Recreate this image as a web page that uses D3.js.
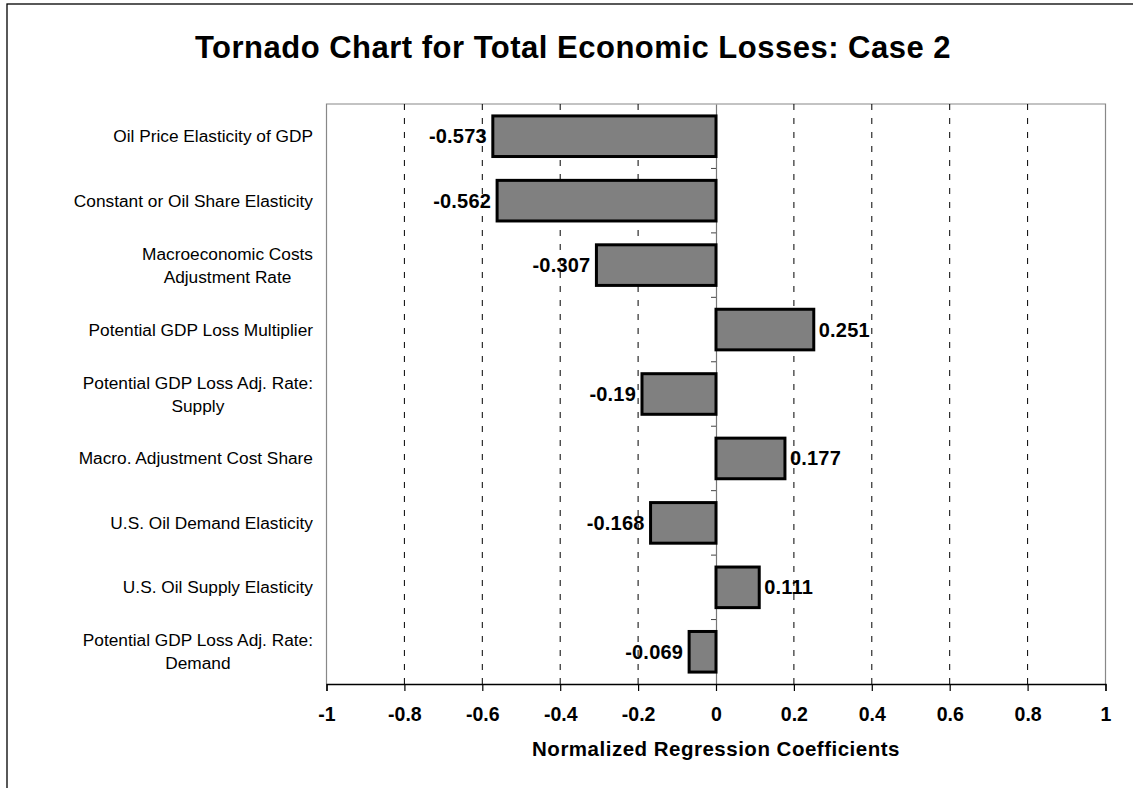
<!DOCTYPE html>
<html>
<head>
<meta charset="utf-8">
<script src="https://cdn.jsdelivr.net/npm/d3@7"></script>
<style>
  html, body { margin: 0; padding: 0; background: #fff; }
  svg { display: block; font-family: Arial, "Liberation Sans", sans-serif; }
</style>
</head>
<body>
<svg id="chart" width="1133" height="788"></svg>
<script>
const title = "Tornado Chart for Total Economic Losses: Case 2";
const xAxisTitle = "Normalized Regression Coefficients";
const categories = [
  "Oil Price Elasticity of GDP",
  "Constant or Oil Share Elasticity",
  "Macroeconomic Costs\nAdjustment Rate",
  "Potential GDP Loss Multiplier",
  "Potential GDP Loss Adj. Rate:\nSupply",
  "Macro. Adjustment Cost Share",
  "U.S. Oil Demand Elasticity",
  "U.S. Oil Supply Elasticity",
  "Potential GDP Loss Adj. Rate:\nDemand"
];
const values = [-0.573, -0.562, -0.307, 0.251, -0.19, 0.177, -0.168, 0.111, -0.069];
const xTicks = [-1, -0.8, -0.6, -0.4, -0.2, 0, 0.2, 0.4, 0.6, 0.8, 1];
const xTickLabels = ["-1", "-0.8", "-0.6", "-0.4", "-0.2", "0", "0.2", "0.4", "0.6", "0.8", "1"];

const svg = d3.select("#chart");
const plot = { left: 326.5, right: 1105.5, top: 104, bottom: 684 };

const x = d3.scaleLinear().domain([-1, 1]).range([plot.left, plot.right]);
const y = d3.scaleBand().domain(categories).range([plot.top, plot.bottom]).padding(0);
const barH = y.bandwidth() * 0.63;

// outer frame
svg.append("rect")
  .attr("x", 7).attr("y", 4).attr("width", 1200).attr("height", 900)
  .attr("fill", "none").attr("stroke", "#000").attr("stroke-width", 1.3);

// title
svg.append("text")
  .attr("x", 573).attr("y", 58)
  .attr("text-anchor", "middle")
  .attr("font-size", 31).attr("font-weight", "bold")
  .attr("letter-spacing", 0.5)
  .text(title);

// plot frame (grey top/left/right)
svg.append("path")
  .attr("d", `M${plot.left},${plot.bottom} V${plot.top} H${plot.right} V${plot.bottom}`)
  .attr("fill", "none").attr("stroke", "#888").attr("stroke-width", 1.2);

// dashed gridlines
svg.append("g").selectAll("line")
  .data(xTicks.filter(t => t !== 0 && t !== -1 && t !== 1))
  .join("line")
  .attr("x1", d => x(d)).attr("x2", d => x(d))
  .attr("y1", plot.top).attr("y2", plot.bottom)
  .attr("stroke", "#000").attr("stroke-width", 1)
  .attr("stroke-dasharray", "6,8");

// zero axis (category axis)
const yAxis = d3.axisLeft(y).tickSize(0).tickFormat("");
const yAxisG = svg.append("g").attr("transform", `translate(${x(0)},0)`).call(yAxis);
yAxisG.select(".domain").attr("stroke", "#777").attr("stroke-width", 1.2);
yAxisG.selectAll(".bound")
  .data(categories.slice(1))
  .join("line")
  .attr("class", "bound")
  .attr("x1", -5).attr("x2", 0)
  .attr("y1", d => y(d)).attr("y2", d => y(d))
  .attr("stroke", "#444").attr("stroke-width", 1);

// bars
svg.append("g").selectAll("rect")
  .data(values)
  .join("rect")
  .attr("x", d => x(Math.min(0, d)))
  .attr("width", d => Math.abs(x(d) - x(0)))
  .attr("y", (d, i) => y(categories[i]) + (y.bandwidth() - barH) / 2)
  .attr("height", barH)
  .attr("fill", "#808080")
  .attr("stroke", "#000")
  .attr("stroke-width", 3);

// bar value labels
svg.append("g").selectAll("text")
  .data(values)
  .join("text")
  .attr("x", d => d < 0 ? x(d) - 6 : x(d) + 5)
  .attr("y", (d, i) => y(categories[i]) + y.bandwidth() / 2 + 7)
  .attr("text-anchor", d => d < 0 ? "end" : "start")
  .attr("font-size", 20).attr("font-weight", "bold")
  .attr("letter-spacing", 0.2)
  .text(d => String(d));

// x axis
const xAxis = d3.axisBottom(x).tickValues(xTicks).tickSize(7).tickPadding(10)
  .tickFormat((d, i) => xTickLabels[i]);
const xAxisG = svg.append("g").attr("transform", `translate(0,${plot.bottom})`).call(xAxis);
xAxisG.select(".domain").attr("stroke", "#000").attr("stroke-width", 1.3);
xAxisG.selectAll(".tick line").attr("stroke", "#000").attr("stroke-width", 1.2);
xAxisG.selectAll(".tick text")
  .attr("font-family", "Arial, 'Liberation Sans', sans-serif")
  .attr("font-size", 19.5).attr("font-weight", "bold").attr("fill", "#000")
  .attr("y", 37).attr("dy", 0);

// x axis title
svg.append("text")
  .attr("x", x(0)).attr("y", 756)
  .attr("text-anchor", "middle")
  .attr("font-size", 20.5).attr("font-weight", "bold")
  .attr("letter-spacing", 0.5)
  .text(xAxisTitle);

// category labels
const labelRight = 313;
const catG = svg.append("g").attr("font-size", 17.3);
categories.forEach((c, i) => {
  const lines = c.split("\n");
  const cy = y(c) + y.bandwidth() / 2;
  const lh = 23;
  const t = catG.append("text").attr("fill", "#000");
  lines.forEach((ln, j) => {
    t.append("tspan")
      .attr("y", cy + (j - (lines.length - 1) / 2) * lh + 6)
      .text(ln);
  });
  const maxW = d3.max(t.selectAll("tspan").nodes(), n => n.getComputedTextLength());
  t.attr("text-anchor", "middle");
  t.selectAll("tspan").attr("x", labelRight - maxW / 2);
});
</script>
</body>
</html>
